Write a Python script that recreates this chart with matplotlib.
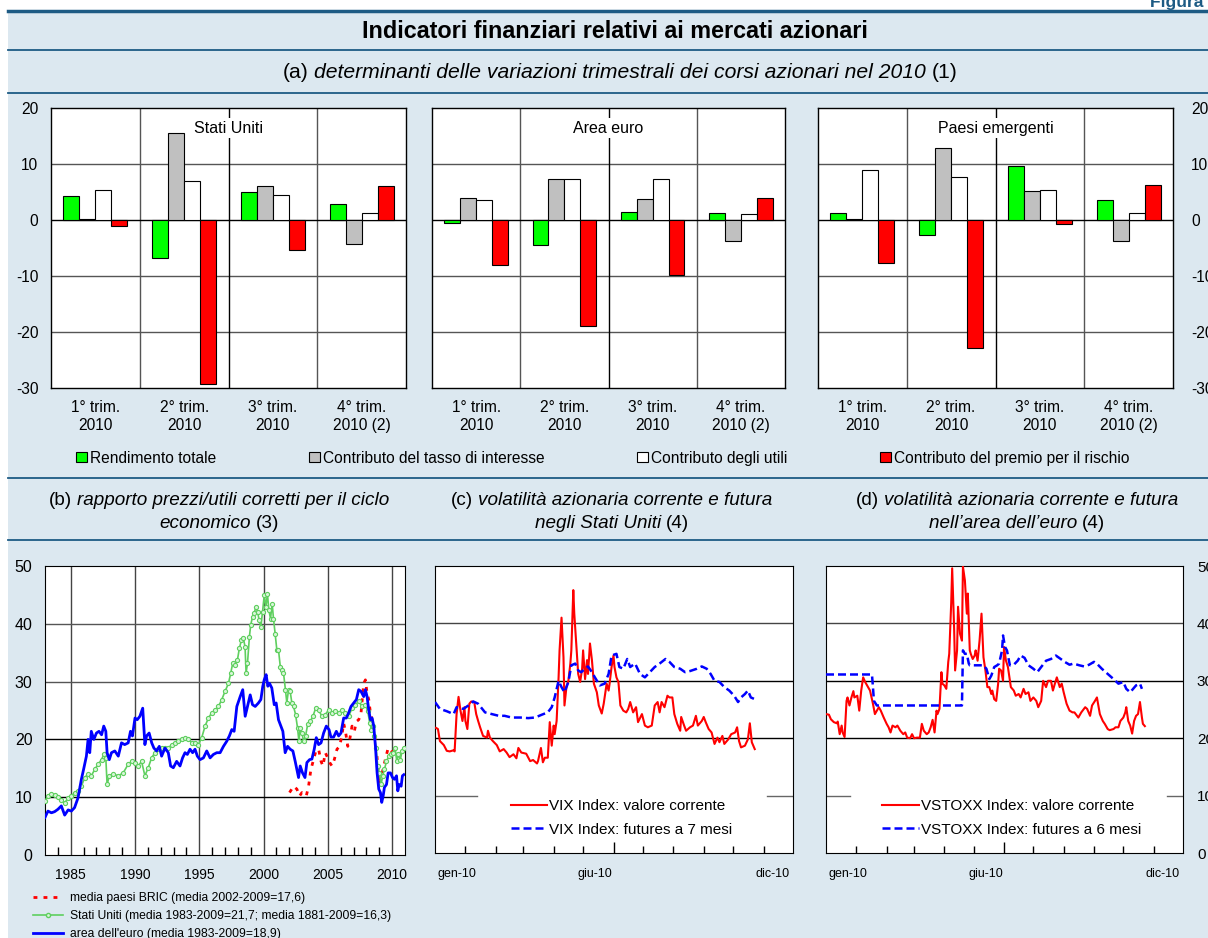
import numpy as np
import matplotlib
matplotlib.use("Agg")
import matplotlib.pyplot as plt
from matplotlib.patches import Rectangle, Patch
from matplotlib.lines import Line2D

plt.rcParams["font.family"] = ["Liberation Sans", "DejaVu Sans"]
plt.rcParams["axes.unicode_minus"] = False

# ---- panel (a): quarterly decomposition of stock price changes ----
quarters = ["1° trim.\n2010", "2° trim.\n2010", "3° trim.\n2010", "4° trim.\n2010 (2)"]
bar_labels = ["Rendimento totale", "Contributo del tasso di interesse",
              "Contributo degli utili", "Contributo del premio per il rischio"]

us_rend = [4.3, -6.8, 5.0, 2.9]
us_tasso = [0.1, 15.5, 6.0, -4.3]
us_utili = [5.3, 7.0, 4.4, 1.2]
us_premio = [-1.0, -29.2, -5.3, 6.1]

eu_rend = [-0.5, -4.5, 1.4, 1.2]
eu_tasso = [4.0, 7.3, 3.8, -3.7]
eu_utili = [3.5, 7.3, 7.4, 1.1]
eu_premio = [-8.0, -18.9, -9.9, 3.9]

em_rend = [1.3, -2.6, 9.7, 3.6]
em_tasso = [0.1, 12.8, 5.1, -3.8]
em_utili = [9.0, 7.6, 5.4, 1.3]
em_premio = [-7.7, -22.9, -0.8, 6.3]

# ---- panel (b): cyclically adjusted P/E ----
euro_year = [1983.0, 1983.23, 1983.5, 1983.75, 1984.0, 1984.27, 1984.53, 1984.8, 1985.05, 1985.3,
             1985.57, 1985.83, 1986.0, 1986.22, 1986.35, 1986.48, 1986.6, 1986.8, 1987.0, 1987.2,
             1987.4, 1987.57, 1987.73, 1987.83, 1988.0, 1988.17, 1988.43, 1988.7, 1988.95, 1989.2,
             1989.47, 1989.65, 1989.8, 1990.0, 1990.17, 1990.38, 1990.6, 1990.77, 1990.9, 1991.1,
             1991.3, 1991.47, 1991.68, 1991.89, 1992.07, 1992.33, 1992.59, 1992.77, 1992.98, 1993.24,
             1993.5, 1993.7, 1993.89, 1994.07, 1994.28, 1994.48, 1994.67, 1994.85, 1995.06, 1995.32,
             1995.58, 1995.84, 1996.1, 1996.36, 1996.62, 1996.88, 1997.14, 1997.34, 1997.53, 1997.71,
             1997.92, 1998.18, 1998.38, 1998.57, 1998.75, 1998.96, 1999.14, 1999.35, 1999.6, 1999.79,
             1999.94, 2000.05, 2000.2, 2000.33, 2000.46, 2000.64, 2000.83, 2000.98, 2001.16, 2001.35,
             2001.5, 2001.68, 2001.87, 2002.07, 2002.28, 2002.46, 2002.59, 2002.72, 2002.85, 2003.03,
             2003.22, 2003.37, 2003.58, 2003.76, 2003.94, 2004.1, 2004.28, 2004.47, 2004.67, 2004.88,
             2005.09, 2005.24, 2005.45, 2005.66, 2005.84, 2006.02, 2006.23, 2006.44, 2006.62, 2006.8,
             2007.01, 2007.22, 2007.4, 2007.58, 2007.79, 2007.92, 2008.05, 2008.18, 2008.31, 2008.44,
             2008.57, 2008.7, 2008.83, 2008.96, 2009.09, 2009.19, 2009.3, 2009.4, 2009.56, 2009.69,
             2009.87, 2010.03, 2010.18, 2010.34, 2010.44, 2010.55, 2010.7, 2010.8, 2010.91]
euro_pe = [6.5, 7.6, 7.3, 7.5, 7.9, 8.5, 6.9, 7.8, 7.6, 8.2,
           9.9, 13.1, 14.8, 17.1, 20.0, 17.7, 21.4, 20.0, 21.1, 21.4,
           20.8, 22.3, 21.4, 17.7, 16.5, 17.7, 18.0, 17.1, 19.4, 19.1,
           19.4, 21.4, 20.6, 23.7, 23.4, 24.0, 25.4, 19.1, 20.6, 21.1,
           19.4, 18.5, 18.0, 18.8, 17.1, 18.5, 17.7, 15.4, 15.1, 16.2,
           15.4, 16.8, 17.7, 17.4, 18.3, 17.7, 18.3, 17.1, 16.5, 16.8,
           18.0, 16.8, 17.4, 17.7, 17.7, 18.8, 19.7, 20.6, 21.7, 21.4,
           25.7, 27.4, 28.6, 24.0, 25.7, 27.7, 26.0, 25.7, 26.3, 26.9,
           29.2, 30.3, 31.2, 29.2, 29.7, 28.9, 26.0, 26.3, 23.4, 22.3,
           21.4, 17.7, 18.8, 18.3, 18.0, 16.2, 14.8, 13.4, 15.4, 14.2,
           13.4, 16.0, 16.5, 16.6, 18.3, 20.3, 19.1, 19.4, 21.1, 22.3,
           21.7, 20.4, 20.4, 21.4, 20.6, 21.1, 23.7, 23.7, 24.6, 25.7,
           26.3, 26.9, 28.6, 28.3, 27.4, 28.6, 27.4, 25.1, 23.4, 23.7,
           22.3, 18.8, 14.2, 11.4, 10.8, 9.1, 10.2, 11.7, 12.2, 14.2,
           14.2, 13.4, 13.1, 13.7, 11.1, 12.2, 11.9, 13.7, 13.9]

us_year = [1983.0, 1983.23, 1983.5, 1983.75, 1984.0, 1984.27, 1984.53, 1984.8, 1985.05, 1985.3,
           1985.57, 1985.83, 1986.09, 1986.35, 1986.6, 1986.87, 1987.13, 1987.4, 1987.57, 1987.73,
           1987.83, 1988.0, 1988.3, 1988.7, 1989.08, 1989.47, 1989.73, 1990.0, 1990.25, 1990.51,
           1990.77, 1991.03, 1991.29, 1991.55, 1991.81, 1992.07, 1992.33, 1992.59, 1992.85, 1993.1,
           1993.37, 1993.63, 1993.89, 1994.15, 1994.41, 1994.67, 1994.93, 1995.19, 1995.45, 1995.71,
           1995.97, 1996.23, 1996.49, 1996.75, 1997.0, 1997.27, 1997.45, 1997.6, 1997.79, 1997.97,
           1998.12, 1998.28, 1998.43, 1998.56, 1998.64, 1998.75, 1998.9, 1999.0, 1999.14, 1999.27,
           1999.4, 1999.53, 1999.66, 1999.79, 1999.92, 2000.05, 2000.18, 2000.3, 2000.41, 2000.54,
           2000.67, 2000.77, 2000.9, 2001.03, 2001.16, 2001.3, 2001.42, 2001.55, 2001.7, 2001.81,
           2001.94, 2002.07, 2002.2, 2002.33, 2002.49, 2002.64, 2002.75, 2002.85, 2002.98, 2003.11,
           2003.27, 2003.43, 2003.63, 2003.84, 2004.05, 2004.28, 2004.54, 2004.8, 2005.06, 2005.32,
           2005.58, 2005.84, 2006.1, 2006.36, 2006.62, 2006.88, 2007.14, 2007.4, 2007.66, 2007.92,
           2008.1, 2008.26, 2008.39, 2008.52, 2008.62, 2008.75, 2008.88, 2009.01, 2009.14, 2009.27,
           2009.4, 2009.56, 2009.74, 2009.92, 2010.08, 2010.23, 2010.36, 2010.49, 2010.64, 2010.77,
           2010.9]
us_pe = [9.4, 10.2, 10.5, 10.3, 10.1, 9.6, 9.0, 9.9, 10.2, 10.8,
         11.1, 11.9, 13.4, 14.0, 13.7, 14.8, 15.7, 16.5, 17.4, 16.8,
         12.2, 13.7, 14.0, 13.7, 14.2, 15.7, 16.2, 16.0, 15.4, 16.2,
         13.7, 15.1, 16.8, 17.7, 18.3, 18.5, 18.5, 18.5, 19.1, 19.4,
         19.7, 20.0, 20.3, 20.1, 19.4, 19.4, 19.1, 20.3, 22.3, 23.7,
         24.6, 25.1, 25.7, 26.9, 28.3, 29.7, 31.5, 33.2, 32.9, 33.8,
         35.8, 37.2, 37.5, 36.0, 31.5, 33.2, 37.8, 39.8, 41.2, 41.8,
         42.9, 42.1, 40.6, 39.5, 42.1, 44.9, 42.9, 45.2, 42.4, 40.9,
         43.5, 40.9, 38.3, 35.5, 35.5, 32.6, 32.0, 31.5, 28.6, 26.3,
         28.6, 28.3, 26.3, 25.7, 24.3, 22.0, 19.7, 22.0, 21.1, 19.7,
         20.6, 22.6, 23.1, 24.0, 25.4, 25.1, 24.0, 24.3, 25.1, 24.6,
         24.9, 24.6, 25.1, 24.6, 24.0, 25.4, 26.0, 26.6, 25.7, 26.0,
         24.9, 22.8, 21.7, 22.3, 20.6, 18.5, 15.4, 14.2, 12.2, 13.7,
         14.8, 16.2, 17.1, 17.4, 17.7, 18.5, 16.2, 17.4, 16.5, 18.0,
         18.5]

bric_year = [2002.02, 2002.33, 2002.59, 2002.8, 2002.98, 2003.17, 2003.32, 2003.5, 2003.68, 2003.89,
             2004.07, 2004.28, 2004.47, 2004.62, 2004.8, 2004.99, 2005.14, 2005.32, 2005.5, 2005.71,
             2005.92, 2006.1, 2006.23, 2006.39, 2006.55, 2006.7, 2006.88, 2007.06, 2007.22, 2007.4,
             2007.58, 2007.79, 2007.92, 2008.05, 2008.18, 2008.31, 2008.44, 2008.57, 2008.75, 2008.91,
             2009.04, 2009.17, 2009.35, 2009.53, 2009.69, 2009.87, 2010.05]
bric_pe = [10.8, 11.9, 11.4, 10.2, 10.8, 10.5, 10.2, 11.9, 14.8, 16.5,
           18.0, 18.3, 16.2, 15.4, 17.7, 16.8, 16.0, 15.4, 16.5, 18.3,
           18.8, 20.8, 22.8, 21.1, 18.8, 20.0, 22.3, 21.4, 23.1, 23.4,
           24.6, 29.7, 30.3, 28.0, 26.9, 24.6, 23.4, 21.7, 18.8, 14.8,
           12.2, 13.7, 15.4, 17.1, 18.5, 18.3, 17.7]

pe_labels = ["media paesi BRIC (media 2002-2009=17,6)",
             "Stati Uniti (media 1983-2009=21,7; media 1881-2009=16,3)",
             "area dell'euro (media 1983-2009=18,9)"]

# ---- panels (c) and (d): days counted from 1 Dec 2009 ----
vix_day = [1, 3, 5, 9, 12, 15, 19, 20, 22, 24, 26, 28, 30, 31, 33, 35, 37, 40, 42, 44,
           46, 49, 53, 54, 56, 59, 63, 66, 70, 73, 76, 80, 83, 85, 88, 93, 97, 100, 104, 105,
           108, 110, 112, 115, 117, 119, 121, 122, 124, 126, 127, 129, 131, 132, 134, 136, 138, 139, 141, 142,
           144, 145, 146, 148, 150, 151, 153, 155, 156, 158, 160, 162, 165, 167, 170, 172, 175, 177, 178, 180,
           182, 183, 185, 187, 189, 192, 195, 197, 199, 202, 205, 207, 211, 214, 217, 221, 224, 227, 229, 231,
           234, 237, 239, 242, 244, 247, 250, 251, 254, 256, 260, 263, 266, 268, 272, 274, 276, 279, 282, 285,
           288, 290, 293, 295, 299, 302, 306, 308, 310, 312, 316, 319, 321, 323, 326]
vix_val = [21.8, 21.6, 19.5, 18.8, 17.8, 17.7, 17.9, 17.7, 24.2, 27.2, 24.8, 23.0, 25.4, 23.0, 21.6, 26.0, 26.4, 26.3, 24.2, 23.0,
           21.9, 20.4, 20.1, 21.3, 20.1, 19.5, 18.8, 17.7, 18.1, 17.5, 16.7, 17.2, 16.5, 18.3, 17.5, 17.3, 16.0, 16.2, 15.6, 16.0,
           18.3, 15.8, 16.6, 16.6, 22.8, 18.7, 22.2, 20.7, 23.0, 30.6, 35.3, 41.0, 34.1, 25.7, 28.9, 30.0, 33.0, 35.3, 45.8, 41.7,
           36.5, 34.1, 31.2, 29.8, 32.1, 35.3, 30.3, 33.6, 31.2, 36.5, 33.6, 29.5, 28.0, 25.7, 24.3, 26.0, 29.5, 28.3, 29.5, 32.4,
           34.4, 32.4, 30.6, 29.8, 25.7, 24.8, 24.5, 25.1, 26.3, 24.5, 25.4, 22.8, 24.2, 22.2, 21.9, 22.2, 25.7, 26.3, 24.5, 26.3,
           25.4, 27.4, 27.1, 27.1, 24.2, 22.5, 21.3, 23.7, 22.2, 21.3, 21.9, 22.2, 23.9, 22.2, 23.0, 23.7, 22.8, 21.6, 21.0, 19.0,
           20.1, 19.3, 20.4, 19.0, 19.8, 20.7, 21.0, 21.9, 19.5, 18.4, 18.7, 19.8, 22.6, 19.3, 18.1]

vixf_day = [0, 5, 12, 19, 22, 29, 34, 39, 44, 51, 58, 65, 71, 78, 87, 95, 102, 109, 115, 119,
            122, 126, 129, 132, 136, 139, 143, 146, 149, 153, 156, 160, 163, 168, 173, 177, 180, 185, 188, 192,
            196, 199, 204, 209, 214, 219, 224, 229, 235, 239, 244, 250, 255, 260, 267, 272, 277, 281, 285, 290,
            295, 300, 305, 309, 312, 316, 319, 322, 326]
vixf_val = [26.3, 25.1, 24.7, 24.2, 25.4, 25.1, 25.7, 26.4, 26.0, 24.5, 24.2, 23.9, 23.9, 23.6, 23.6, 23.5, 23.6, 24.1, 24.5, 25.4,
            27.1, 30.0, 28.9, 28.0, 29.8, 32.7, 33.0, 31.8, 31.5, 32.1, 32.5, 31.5, 30.6, 29.2, 29.5, 31.2, 34.4, 34.7, 32.4, 32.1,
            33.8, 32.4, 33.0, 31.2, 30.6, 31.5, 32.4, 33.0, 33.8, 33.3, 32.4, 32.1, 31.5, 31.7, 32.1, 32.5, 32.1, 31.2, 30.0, 29.8,
            28.9, 28.3, 27.4, 26.3, 27.1, 27.7, 28.3, 27.1, 26.8]

vstoxx_day = [0, 3, 5, 8, 11, 12, 14, 16, 17, 19, 21, 22, 24, 26, 28, 29, 32, 34, 36, 38,
              40, 43, 45, 48, 50, 54, 56, 59, 62, 64, 66, 68, 71, 73, 76, 79, 81, 83, 86, 88,
              90, 93, 96, 98, 100, 103, 105, 107, 109, 111, 113, 114, 116, 118, 119, 121, 123, 125, 126, 128,
              129, 131, 132, 134, 135, 137, 139, 140, 142, 144, 145, 147, 148, 150, 152, 153, 155, 157, 159, 161,
              163, 165, 167, 169, 170, 172, 174, 176, 177, 179, 181, 182, 184, 186, 187, 189, 192, 194, 197, 199,
              202, 204, 207, 209, 212, 215, 217, 220, 222, 225, 227, 230, 232, 234, 236, 239, 241, 243, 246, 249,
              252, 254, 258, 261, 265, 267, 270, 272, 275, 277, 280, 283, 285, 288, 290, 294, 296, 299, 301, 304,
              306, 307, 309, 311, 313, 315, 317, 319, 321, 323, 324, 326]
vstoxx_val = [24.2, 24.1, 23.3, 22.8, 22.6, 22.9, 20.7, 22.2, 21.0, 20.2, 26.5, 27.1, 25.7, 27.1, 28.2, 27.1, 27.4, 24.8, 28.3, 30.6,
              29.8, 28.9, 28.3, 26.0, 24.2, 25.4, 24.8, 23.6, 22.5, 21.9, 21.0, 22.2, 21.9, 22.2, 21.3, 20.7, 21.0, 20.1, 20.0, 20.7,
              20.0, 20.1, 20.1, 22.5, 21.3, 20.7, 21.0, 21.9, 23.2, 21.0, 24.8, 24.2, 25.1, 31.5, 29.5, 29.2, 28.6, 33.3, 34.7, 43.5,
              49.6, 39.1, 31.8, 35.3, 42.9, 38.2, 37.0, 49.9, 47.5, 41.7, 45.2, 35.3, 34.7, 33.8, 34.4, 35.3, 33.5, 37.0, 41.7, 34.1,
              31.8, 28.9, 28.9, 27.7, 28.3, 26.8, 26.5, 29.5, 32.1, 31.8, 30.0, 35.9, 33.5, 32.4, 31.2, 28.9, 28.3, 27.4, 27.7, 27.1,
              28.6, 27.7, 28.0, 26.5, 27.1, 26.5, 25.4, 26.5, 30.0, 28.9, 30.0, 30.0, 28.3, 29.5, 30.6, 28.9, 29.5, 28.0, 26.0, 24.8,
              24.5, 24.5, 23.6, 24.5, 25.4, 25.1, 23.9, 25.7, 26.5, 27.1, 24.2, 23.0, 22.5, 21.6, 21.4, 21.6, 21.9, 21.9, 23.0, 23.6,
              24.5, 25.4, 23.0, 22.2, 20.8, 23.0, 23.9, 24.2, 26.3, 23.6, 22.5, 22.1]

vstoxxf_day = [0, 47, 48, 49, 52, 139, 140, 142, 144, 146, 147, 154, 161, 164, 167, 169, 172, 175, 177, 180,
               181, 183, 185, 188, 192, 196, 199, 203, 207, 212, 216, 220, 225, 230, 235, 240, 244, 249, 253, 259,
               264, 269, 274, 278, 282, 286, 290, 294, 299, 304, 307, 311, 314, 317, 321, 323]
vstoxxf_val = [31.1, 31.1, 28.9, 26.5, 25.7, 25.7, 35.3, 34.7, 34.7, 33.0, 32.7, 32.7, 32.7, 32.1, 30.3, 30.9, 32.4, 32.7, 33.0, 35.3,
               37.9, 35.9, 35.3, 32.7, 32.8, 33.5, 34.4, 34.0, 32.7, 32.1, 31.5, 32.4, 33.5, 33.8, 34.4, 33.8, 33.3, 32.8, 33.0, 32.7,
               32.5, 32.8, 33.3, 32.8, 32.1, 31.5, 30.9, 30.3, 29.5, 29.8, 28.6, 28.0, 28.6, 29.2, 29.5, 28.6]

month_starts = [31, 62, 90, 121, 151, 212, 243, 274, 304, 335]
june_day = 182
month_labels = ["gen-10", "giu-10", "dic-10"]
month_label_days = [22, 163, 344]

W, H = 1208, 938
BG = "#dce8f0"
DARK = "#1d5b84"
bar_colors = ["#00ff00", "#c0c0c0", "#ffffff", "#ff0000"]

fig = plt.figure(figsize=(W / 100, H / 100), dpi=100)
fig.patch.set_facecolor("white")


def fy(y):
    return 1 - y / H


def axes_px(l, t, r, b):
    return fig.add_axes([l / W, 1 - b / H, (r - l) / W, (b - t) / H])


def mixed_line(x, y, parts, size):
    # draw pieces in different styles side by side, centred on x
    r = fig.canvas.get_renderer()
    texts = [fig.text(0, fy(y), s, fontsize=size, style=st, va="center", ha="left")
             for s, st in parts]
    widths = [t.get_window_extent(r).width for t in texts]
    gap = 0.27 * size * 100 / 72
    left = x - (sum(widths) + gap * (len(texts) - 1)) / 2
    for t, w in zip(texts, widths):
        t.set_x(left / W)
        left += w + gap


# background and rules
fig.add_artist(Rectangle((8 / W, 0), 1 - 8 / W, fy(11), transform=fig.transFigure,
                         facecolor=BG, edgecolor="none", zorder=-5))
for y, lw in [(11, 2.5), (50, 1.3), (93, 1.3), (478, 1.3), (540, 1.3)]:
    fig.add_artist(Line2D([8 / W, 1], [fy(y), fy(y)], color=DARK, lw=lw))

fig.text(1150 / W, fy(7), "Figura 1.", fontsize=12.5, fontweight="bold", color=DARK,
         ha="left", va="baseline")
fig.text(615 / W, fy(32), "Indicatori finanziari relativi ai mercati azionari",
         fontsize=16.8, fontweight="bold", ha="center", va="center")
mixed_line(620, 72, [("(a)", "normal"),
                     ("determinanti delle variazioni trimestrali dei corsi azionari nel 2010", "italic"),
                     ("(1)", "normal")], 15.2)

# ---- panel (a) ----
groups = [
    ((51, 108, 406, 388), "Stati Uniti", [us_rend, us_tasso, us_utili, us_premio]),
    ((432, 108, 785, 388), "Area euro", [eu_rend, eu_tasso, eu_utili, eu_premio]),
    ((818, 108, 1173, 388), "Paesi emergenti", [em_rend, em_tasso, em_utili, em_premio]),
]
xpos = np.arange(len(quarters))
bw = 0.18
for k, (box, name, series) in enumerate(groups):
    ax = axes_px(*box)
    for i, (vals, color) in enumerate(zip(series, bar_colors)):
        ax.bar(xpos + (i - 1.5) * bw, vals, bw, color=color, edgecolor="black",
               linewidth=0.8, zorder=3)
    ax.set_xlim(-0.5, 3.5)
    ax.set_ylim(-30, 20)
    for v in [-20, -10, 10]:
        ax.axhline(v, color="#555555", lw=1, zorder=1)
    ax.axhline(0, color="black", lw=1, zorder=2)
    for v in [0.5, 2.5]:
        ax.axvline(v, color="#555555", lw=1, zorder=1)
    ax.axvline(1.5, color="black", lw=1, zorder=1)
    ax.text(1.5, 16.4, name, ha="center", va="center", fontsize=11.5,
            bbox=dict(facecolor="white", edgecolor="none", pad=2), zorder=4)
    ax.set_xticks(xpos, quarters)
    ax.set_yticks([-30, -20, -10, 0, 10, 20])
    ax.tick_params(length=0, labelsize=11.2)
    ax.tick_params(axis="x", pad=9)
    ax.tick_params(axis="y", pad=9)
    if k == 1:
        ax.tick_params(axis="y", labelleft=False)
    elif k == 2:
        ax.yaxis.tick_right()
        ax.tick_params(axis="y", pad=13)
    for s in ax.spines.values():
        s.set_linewidth(1)

handles = [Patch(facecolor=c, edgecolor="black", linewidth=0.8) for c in bar_colors]
fig.legend(handles, bar_labels, loc="center", bbox_to_anchor=(603 / W, fy(458)), ncol=4,
           frameon=False, fontsize=11.2, handlelength=0.7, handleheight=0.7,
           handletextpad=0.2, columnspacing=5.95)

# ---- headings of (b), (c), (d) ----
mixed_line(219, 500, [("(b)", "normal"), ("rapporto prezzi/utili corretti per il ciclo", "italic")], 13.6)
mixed_line(219, 523, [("economico", "italic"), ("(3)", "normal")], 13.6)
mixed_line(612, 500, [("(c)", "normal"), ("volatilità azionaria corrente e futura", "italic")], 13.6)
mixed_line(612, 523, [("negli Stati Uniti", "italic"), ("(4)", "normal")], 13.6)
mixed_line(1017, 500, [("(d)", "normal"), ("volatilità azionaria corrente e futura", "italic")], 13.6)
mixed_line(1017, 523, [("nell’area dell’euro", "italic"), ("(4)", "normal")], 13.6)

# ---- panel (b) ----
axb = axes_px(45, 566, 405, 855)
axb.plot(bric_year, bric_pe, color="#ff0000", lw=2, dashes=(1.4, 2.2), zorder=3)
axb.plot(us_year, us_pe, color="#5fcf5f", lw=1.2, marker="o", markersize=3,
         markerfacecolor="#d8f5d8", markeredgecolor="#5fcf5f", markeredgewidth=0.8, zorder=3)
axb.plot(euro_year, euro_pe, color="#0000ff", lw=2, zorder=4)
axb.set_xlim(1983, 2011)
axb.set_ylim(0, 50)
axb.set_xticks(range(1985, 2011, 5))
axb.set_xticks(range(1984, 2011), minor=True)
axb.set_yticks(range(0, 51, 10))
axb.tick_params(axis="x", which="major", length=0, pad=9, labelsize=10)
axb.tick_params(axis="x", which="minor", direction="in", length=6, width=1)
axb.tick_params(axis="y", length=0, pad=9, labelsize=11.5)
for yr in range(1985, 2011, 5):
    axb.axvline(yr, color="#444444", lw=1, zorder=1)
for v, c in [(10, "black"), (20, "black"), (30, "#555555"), (40, "#555555")]:
    axb.axhline(v, color=c, lw=1, zorder=1)

pe_handles = [Line2D([], [], color="#ff0000", lw=2, dashes=(1.4, 2.2)),
              Line2D([], [], color="#5fcf5f", lw=1.2, marker="o", markersize=3,
                     markerfacecolor="#d8f5d8", markeredgecolor="#5fcf5f", markevery=[1]),
              Line2D([], [], color="#0000ff", lw=2)]
fig.legend(pe_handles, pe_labels, loc="upper left", bbox_to_anchor=(33 / W, fy(892)),
           frameon=False, fontsize=8.7, handlelength=2.5, handletextpad=0.55,
           labelspacing=0.5, borderpad=0, borderaxespad=0)


# ---- panels (c) and (d) ----
def vol_panel(box, cur_day, cur_val, fut_day, fut_val, labels, right_labels, gap):
    ax = axes_px(*box)
    ax.plot(cur_day, cur_val, color="#ff0000", lw=1.5, zorder=3)
    ax.plot(fut_day, fut_val, color="#0000ff", lw=1.8, dashes=(3.2, 1.6), zorder=3)
    ax.set_xlim(0, 365)
    ax.set_ylim(0, 50)
    for v, c in [(20, "black"), (30, "black"), (40, "#444444")]:
        ax.axhline(v, color=c, lw=1, zorder=1)
    # the 10 line is broken where the legend sits
    ax.axhline(10, xmax=gap[0], color="#666666", lw=1, zorder=1)
    ax.axhline(10, xmin=gap[1], color="#666666", lw=1, zorder=1)
    ax.set_xticks([june_day], [""])
    ax.set_xticks(month_starts, minor=True)
    ax.tick_params(axis="x", which="major", direction="in", length=8, width=1)
    ax.tick_params(axis="x", which="minor", direction="in", length=5, width=1)
    for d, lab in zip(month_label_days, month_labels):
        ax.text(d, -0.072, lab, transform=ax.get_xaxis_transform(), ha="center",
                va="center", fontsize=9)
    ax.set_yticks(range(0, 51, 10))
    if right_labels:
        ax.yaxis.tick_right()
        ax.tick_params(axis="y", length=0, pad=10, labelsize=11)
    else:
        ax.tick_params(axis="y", length=0, labelleft=False)
    ax.legend(labels, loc="center", bbox_to_anchor=(0.52, 0.122), fontsize=11,
              frameon=False, handlelength=2.4, handletextpad=0.1, labelspacing=0.62)
    return ax


vol_panel((435, 566, 793, 853), vix_day, vix_val, vixf_day, vixf_val,
          ["VIX Index: valore corrente", "VIX Index: futures a 7 mesi"], False, (0.117, 0.927))
vol_panel((826, 566, 1183, 853), vstoxx_day, vstoxx_val, vstoxxf_day, vstoxxf_val,
          ["VSTOXX Index: valore corrente", "VSTOXX Index: futures a 6 mesi"], True, (0.067, 0.955))

fig.savefig("out.png", dpi=100, facecolor=fig.get_facecolor())
